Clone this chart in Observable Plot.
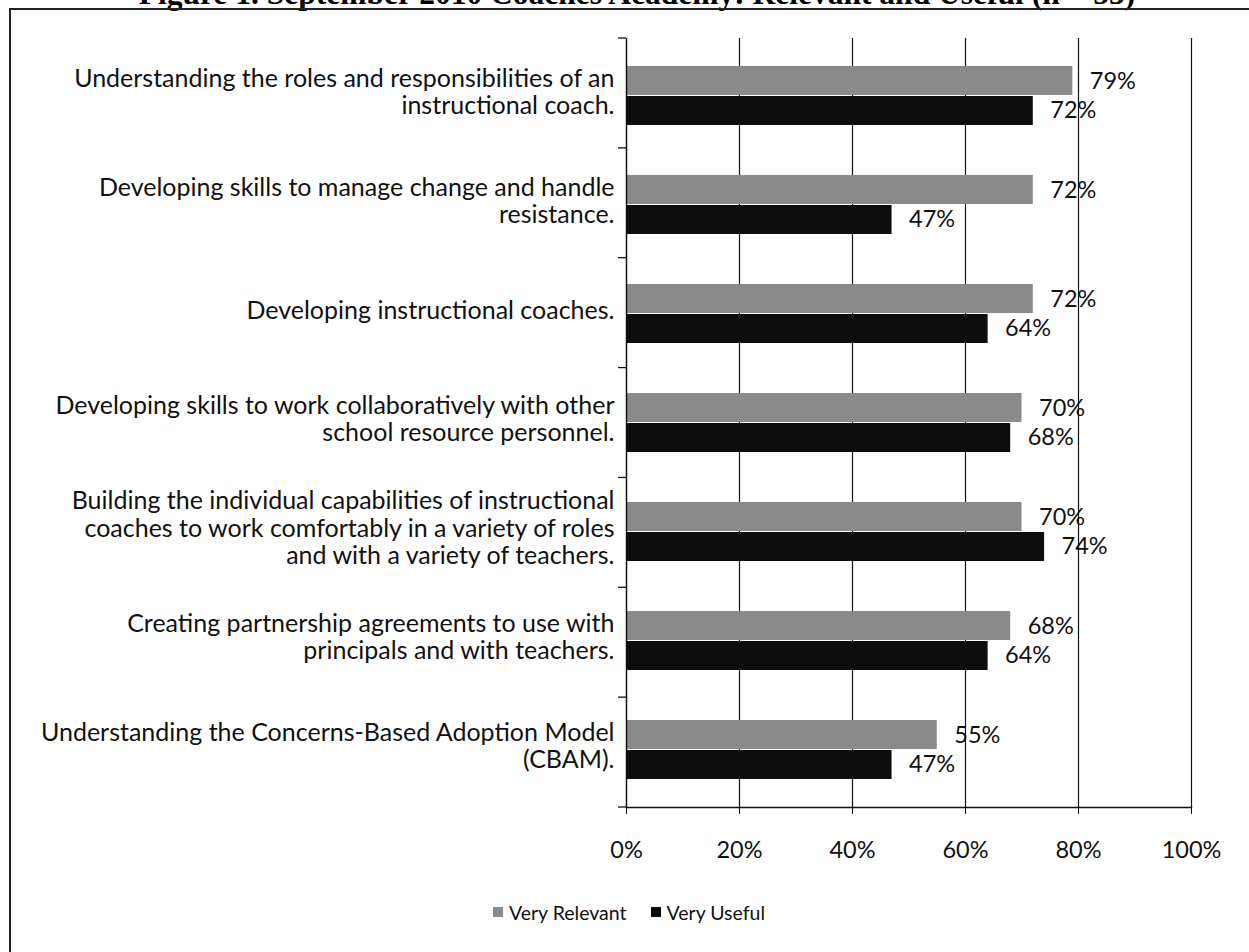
<!DOCTYPE html>
<html>
<head>
<meta charset="utf-8">
<script src="https://cdn.jsdelivr.net/npm/d3@7"></script>
<script src="https://cdn.jsdelivr.net/npm/@observablehq/plot@0.6"></script>
<style>
  html, body { margin: 0; padding: 0; background: #fff; width: 1249px; height: 952px; overflow: hidden; }
  #title { position: absolute; left: 0; width: 1274px; top: -24px; text-align: center; font-family: "Liberation Serif", serif; font-weight: bold; font-size: 31.5px; color: #000; white-space: nowrap; }
  #frame { position: absolute; left: 9px; top: 8px; width: 1300px; height: 1000px; border: 2px solid #222; box-sizing: border-box; }
  #chart { position: absolute; left: 0; top: 0; }
  #legend { position: absolute; top: 898px; left: 0; width: 1258px; text-align: center; font-family: Lato, "Open Sans", sans-serif; font-size: 19.5px; color: #111; }
  #legend span.item { display: inline-flex; align-items: center; margin: 0 12px; }
  #legend span.sw { display: inline-block; width: 10px; height: 10px; margin-right: 6px; }
</style>
</head>
<body>
<div id="title">Figure 1. September 2010 Coaches Academy: Relevant and Useful (n = 53)</div>
<div id="frame"></div>
<div id="chart"></div>
<div id="legend"></div>
<script>
const categories = [
  "Understanding the roles and responsibilities of an\ninstructional coach.",
  "Developing skills to manage change and handle\nresistance.",
  "Developing instructional coaches.",
  "Developing skills to work collaboratively with other\nschool resource personnel.",
  "Building the individual capabilities of instructional\ncoaches to work comfortably in a variety of roles\nand with a variety of teachers.",
  "Creating partnership agreements to use with\nprincipals and with teachers.",
  "Understanding the Concerns-Based Adoption Model\n(CBAM)."
];
const veryRelevant = [79, 72, 72, 70, 70, 68, 55];
const veryUseful = [72, 47, 64, 68, 74, 64, 47];
const seriesNames = ["Very Relevant", "Very Useful"];
const xTicks = [0, 20, 40, 60, 80, 100];

const grayFill = "#8a8a8a";
const blackFill = "#0d0d0d";
const font = "Lato, 'Open Sans', sans-serif";

const rows = categories.map((c, i) => ({cat: c, relevant: veryRelevant[i], useful: veryUseful[i]}));

const W = 1249, H = 880, mL = 626, mR = 58, mT = 38, mB = 73;

// left-axis boundary ticks between categories
const boundaryTicks = (index, scales, values, dims) => {
  const g = d3.create("svg:g");
  const n = categories.length;
  const step = (dims.height - dims.marginTop - dims.marginBottom) / n;
  for (let i = 0; i <= n; i++) {
    const yy = dims.marginTop + i * step;
    g.append("line").attr("x1", dims.marginLeft - 8).attr("x2", dims.marginLeft)
      .attr("y1", yy).attr("y2", yy).attr("stroke", "#111").attr("stroke-width", 1.3);
  }
  return g.node();
};

const chart = Plot.plot({
  width: W, height: H,
  marginLeft: mL, marginRight: mR, marginTop: mT, marginBottom: mB,
  style: {background: "transparent", fontFamily: font, color: "#111"},
  x: {domain: [0, 100], axis: null},
  y: {domain: categories, padding: 0, axis: null},
  marks: [
    Plot.ruleX(xTicks.slice(1), {stroke: "#111", strokeWidth: 1.2}),
    Plot.barX(rows, {x: "relevant", y: "cat", fill: grayFill, insetTop: 25, insetBottom: 55}),
    Plot.barX(rows, {x: "useful", y: "cat", fill: blackFill, insetTop: 55, insetBottom: 25}),
    Plot.ruleX([0], {stroke: "#111", strokeWidth: 1.5}),
    Plot.frame({anchor: "bottom", stroke: "#111", strokeWidth: 1.5}),
    boundaryTicks,
    Plot.axisX({ticks: xTicks, tickFormat: d => d + "%", tickSize: 7, tickPadding: 27, fontSize: 23.5, stroke: "#111"}),
    Plot.text(rows, {x: "relevant", y: "cat", text: d => d.relevant + "%", dy: -15, dx: 17, textAnchor: "start", fontSize: 23.5, fill: "#111"}),
    Plot.text(rows, {x: "useful", y: "cat", text: d => d.useful + "%", dy: 14, dx: 17, textAnchor: "start", fontSize: 23.5, fill: "#111"}),
    Plot.text(rows, {x: d => 0, y: "cat", text: "cat", dx: -12, dy: -4, textAnchor: "end", lineAnchor: "middle", lineHeight: 1.09, fontSize: 25, fill: "#111"})
  ]
});
document.getElementById("chart").appendChild(chart);

const legend = document.getElementById("legend");
[grayFill, blackFill].forEach((c, i) => {
  const item = document.createElement("span");
  item.className = "item";
  const sw = document.createElement("span");
  sw.className = "sw";
  sw.style.background = c;
  item.appendChild(sw);
  item.appendChild(document.createTextNode(seriesNames[i]));
  legend.appendChild(item);
});
</script>
</body>
</html>
